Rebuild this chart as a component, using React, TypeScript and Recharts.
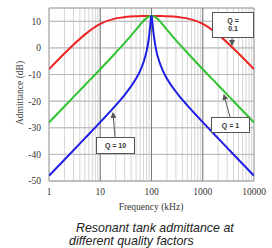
import React from "react"
import { LineChart, Line, XAxis, YAxis, CartesianGrid, ReferenceLine, ReferenceArea } from "recharts"

// frequency in kHz
const freqs = [1, 2, 5, 10, 20, 30, 50, 60, 70, 80, 85, 90, 95, 98, 99, 100, 101, 102, 105, 111, 118, 125, 143, 167, 200, 333, 500, 1000, 2000, 5000, 10000]
// admittance in dB per quality factor
const q01 = [-8, -2.1, 5, 9, 11.1, 11.6, 11.9, 11.95, 12, 12, 12, 12, 12, 12, 12, 12, 12, 12, 12, 12, 12, 12, 12, 11.95, 11.9, 11.6, 11.1, 9, 5, -2.1, -8]
const q1 = [-28, -22, -14, -8, -1.8, 1.9, 6.9, 8.7, 10.2, 11.2, 11.6, 11.8, 12, 12, 12, 12, 12, 12, 12, 11.8, 11.6, 11.2, 10.2, 8.7, 6.9, 1.9, -1.8, -8, -14, -22, -28]
const q10 = [-48, -42, -34, -27.9, -21.6, -17.6, -11.5, -8.6, -5.3, -1.3, 1.3, 4.6, 8.9, 11.3, 11.8, 12, 11.8, 11.3, 8.9, 4.6, 1.3, -1.3, -5.3, -8.6, -11.5, -17.6, -21.6, -27.9, -34, -42, -48]

const xTicks = [1, 2, 3, 4, 5, 6, 7, 8, 9, 10, 20, 30, 40, 50, 60, 70, 80, 90, 100, 200, 300, 400, 500, 600, 700, 800, 900, 1000, 2000, 3000, 4000, 5000, 6000, 7000, 8000, 9000, 10000]
const xLabels = [1, 10, 100, 1000, 10000]
const majorLines = [10, 100, 1000]
const yTicks = [-50, -40, -30, -20, -10, 0, 10]

const data = freqs.map((f, i) => ({ f, q01: q01[i], q1: q1[i], q10: q10[i] }))

const serif = "'Liberation Serif', 'Times New Roman', serif"
const sans = "'Liberation Sans', Arial, sans-serif"

export default function App() {
  return (
    <div style={{ position: "absolute", left: 0, top: 0, width: 272, height: 248, background: "#fff" }}>
      <LineChart width={272} height={248} data={data} margin={{ top: 8, right: 18, bottom: 37, left: 0 }}>
        <CartesianGrid
          stroke="#d4d4d4"
          horizontalFill={[]}
          verticalFill={[]}
          strokeWidth={1}
        />
        <XAxis
          dataKey="f"
          type="number"
          scale="log"
          domain={[1, 10000]}
          ticks={xTicks}
          interval={0}
          height={30}
          tickLine={false}
          axisLine={false}
          tickMargin={1}
          tickFormatter={(v: number) => (xLabels.includes(v) ? String(v) : "")}
          tick={{ fill: "#333", fontSize: 9.5, fontFamily: serif }}
          allowDataOverflow
        />
        <YAxis
          type="number"
          domain={[-50, 15]}
          ticks={yTicks}
          interval={0}
          width={49}
          tickLine={false}
          axisLine={false}
          tick={{ fill: "#333", fontSize: 9.5, fontFamily: serif }}
          allowDataOverflow
        />
        {yTicks.map((t) => (
          <ReferenceLine key={"h" + t} y={t} stroke="#b8b8b8" />
        ))}
        {majorLines.map((t) => (
          <ReferenceLine key={"v" + t} x={t} stroke="#7a7a7a" />
        ))}
        <ReferenceArea x1={1} x2={10000} y1={-50} y2={15} fill="none" stroke="#a0a0a0" />
        <Line type="monotone" dataKey="q01" stroke="#ee2424" strokeWidth={2} dot={false} isAnimationActive={false} />
        <Line type="monotone" dataKey="q1" stroke="#30c430" strokeWidth={2} dot={false} isAnimationActive={false} />
        <Line type="monotone" dataKey="q10" stroke="#1e1ee6" strokeWidth={2} dot={false} isAnimationActive={false} />
      </LineChart>
      <svg width={272} height={248} style={{ position: "absolute", left: 0, top: 0, pointerEvents: "none" }}>
        <defs>
          <marker id="ah" markerWidth="6" markerHeight="6" refX="5" refY="3" orient="auto" markerUnits="userSpaceOnUse">
            <path d="M0,0 L6,3 L0,6 Z" fill="#555" />
          </marker>
        </defs>
        <text
          transform="translate(21,93) rotate(-90)"
          textAnchor="middle"
          dominantBaseline="middle"
          fontFamily={serif}
          fontSize={9.5}
          fill="#444"
        >
          Admittance (dB)
        </text>
        <text x={151} y={210} textAnchor="middle" fontFamily={serif} fontSize={9.5} fill="#333">
          Frequency (kHz)
        </text>
        <text x={76} y={232} fontFamily={sans} fontStyle="italic" fontSize={12.4} fill="#222">
          Resonant tank admittance at
        </text>
        <text x={69} y={245} fontFamily={sans} fontStyle="italic" fontSize={12.4} fill="#222">
          different quality factors
        </text>

        <line x1={232} y1={37} x2={232} y2={45} stroke="#555" strokeWidth={1} markerEnd="url(#ah)" />
        <rect x={212.5} y={12.5} width={41} height={25} fill="#fff" stroke="#555" />
        <text x={233} y={23} textAnchor="middle" fontFamily={sans} fontWeight="bold" fontSize={7} fill="#333">Q =</text>
        <text x={233} y={31} textAnchor="middle" fontFamily={sans} fontWeight="bold" fontSize={7} fill="#333">0.1</text>

        <line x1={230} y1={117} x2={224} y2={95} stroke="#555" strokeWidth={1} markerEnd="url(#ah)" />
        <rect x={211.5} y={117.5} width={38} height={15} fill="#fff" stroke="#555" />
        <text x={230.5} y={127.5} textAnchor="middle" fontFamily={sans} fontWeight="bold" fontSize={7} fill="#333">Q = 1</text>

        <line x1={115} y1={137} x2={113} y2={113} stroke="#555" strokeWidth={1} markerEnd="url(#ah)" />
        <rect x={96.5} y={137.5} width={38} height={16} fill="#fff" stroke="#555" />
        <text x={115.5} y={148} textAnchor="middle" fontFamily={sans} fontWeight="bold" fontSize={7} fill="#333">Q = 10</text>
      </svg>
    </div>
  )
}
